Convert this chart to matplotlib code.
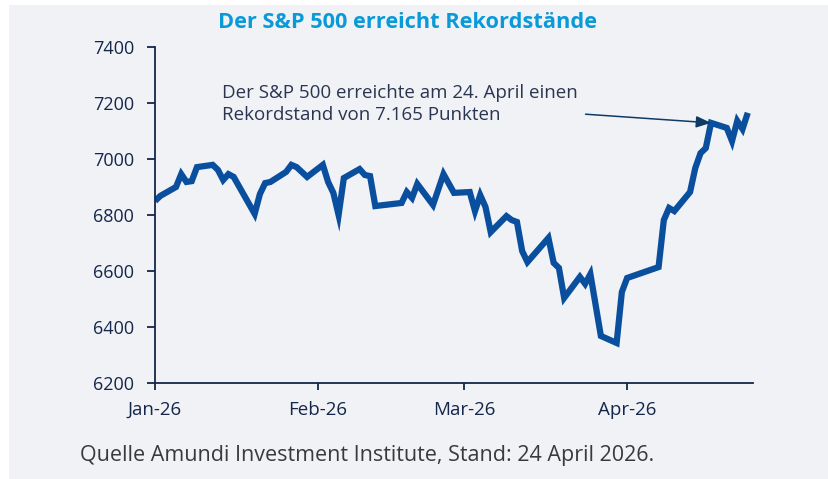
import pandas as pd
import matplotlib.dates as mdates
from matplotlib import pyplot as plt
from matplotlib.patches import Rectangle

# S&P 500 closing levels
dates = ['2026-01-01', '2026-01-02', '2026-01-05', '2026-01-06', '2026-01-07', '2026-01-08',
         '2026-01-09', '2026-01-12', '2026-01-13', '2026-01-14', '2026-01-15', '2026-01-16',
         '2026-01-20', '2026-01-21', '2026-01-22', '2026-01-23', '2026-01-26', '2026-01-27',
         '2026-01-28', '2026-01-30', '2026-02-02', '2026-02-03', '2026-02-04', '2026-02-05',
         '2026-02-06', '2026-02-09', '2026-02-10', '2026-02-11', '2026-02-12', '2026-02-17',
         '2026-02-18', '2026-02-19', '2026-02-20', '2026-02-23', '2026-02-25', '2026-02-27',
         '2026-03-02', '2026-03-03', '2026-03-04', '2026-03-05', '2026-03-06', '2026-03-09',
         '2026-03-10', '2026-03-11', '2026-03-12', '2026-03-13', '2026-03-17', '2026-03-18',
         '2026-03-19', '2026-03-20', '2026-03-23', '2026-03-24', '2026-03-25', '2026-03-27',
         '2026-03-30', '2026-03-31', '2026-04-01', '2026-04-07', '2026-04-08', '2026-04-09',
         '2026-04-10', '2026-04-13', '2026-04-14', '2026-04-15', '2026-04-16', '2026-04-17',
         '2026-04-20', '2026-04-21', '2026-04-22', '2026-04-23', '2026-04-24']
values = [6850, 6868, 6900, 6946, 6918, 6921,
          6971, 6979, 6961, 6925, 6946, 6936,
          6804, 6875, 6914, 6918, 6954, 6979,
          6971, 6936, 6979, 6918, 6879, 6800,
          6932, 6964, 6943, 6939, 6832, 6843,
          6882, 6861, 6911, 6836, 6946, 6879,
          6882, 6814, 6871, 6829, 6739, 6796,
          6782, 6775, 6671, 6632, 6718, 6629,
          6611, 6504, 6579, 6554, 6589, 6368,
          6343, 6525, 6575, 6614, 6782, 6825,
          6814, 6882, 6968, 7021, 7039, 7129,
          7111, 7064, 7136, 7107, 7165]

yticks = [6200, 6400, 6600, 6800, 7000, 7200, 7400]
xtick_dates = ['2026-01-01', '2026-02-01', '2026-03-01', '2026-04-01']
xtick_labels = ['Jan-26', 'Feb-26', 'Mar-26', 'Apr-26']

title_str = 'Der S&P 500 erreicht Rekordstände'
note_str = 'Der S&P 500 erreichte am 24. April einen\nRekordstand von 7.165 Punkten'
source_str = 'Quelle Amundi Investment Institute, Stand: 24 April 2026.'

navy = '#14264a'
line_blue = '#0a4f9e'
bg = '#f1f2f6'

plt.rcParams['font.family'] = ['Open Sans', 'DejaVu Sans']

x = pd.to_datetime(dates)

fig = plt.figure(figsize=(8.29, 4.79), dpi=100, facecolor='white')
fig.patches.append(Rectangle((9 / 829, 0), 1, 1 - 5 / 479, transform=fig.transFigure,
                             facecolor=bg, edgecolor='none', zorder=-10))

ax = fig.add_axes([155 / 829, 1 - 383 / 479, 598 / 829, 336 / 479])
ax.set_facecolor(bg)
ax.plot(x, values, color=line_blue, lw=4.5, solid_joinstyle='miter', solid_capstyle='butt')

ax.set_xlim(pd.Timestamp('2026-01-01'), pd.Timestamp('2026-04-25'))
ax.set_ylim(6200, 7400)
ax.set_yticks(yticks)
ax.set_xticks(pd.to_datetime(xtick_dates))
ax.set_xticklabels(xtick_labels)

for s in ['top', 'right']:
    ax.spines[s].set_visible(False)
for s in ['left', 'bottom']:
    ax.spines[s].set_color(navy)
    ax.spines[s].set_linewidth(1.3)
ax.tick_params(axis='y', colors=navy, labelsize=13, length=6, width=1.3, pad=9)
ax.tick_params(axis='x', colors=navy, labelsize=13.5, length=5, width=1.3, pad=8)

fig.text(408 / 829, 1 - 23 / 479, title_str, ha='center', va='center', fontsize=15.7,
         fontweight='bold', color='#0a9ad8', family=['Liberation Sans Narrow', 'Open Sans'])

ax.text(0.112, 0.83, note_str, transform=ax.transAxes, ha='left', va='center',
        fontsize=13.5, color='#2a3550', linespacing=1.25)
ax.annotate('', xy=(pd.Timestamp('2026-04-17'), 7129), xycoords='data',
            xytext=(0.72, 0.80), textcoords='axes fraction',
            arrowprops=dict(arrowstyle='-|>,head_length=0.9,head_width=0.35',
                            color='#0d3a66', lw=1.1, shrinkA=0, shrinkB=0))

fig.text(80 / 829, 1 - 455 / 479, source_str, ha='left', va='center', fontsize=15.5,
         color='#3a3a3a')

fig.savefig('out.png', dpi=100, facecolor='white')
